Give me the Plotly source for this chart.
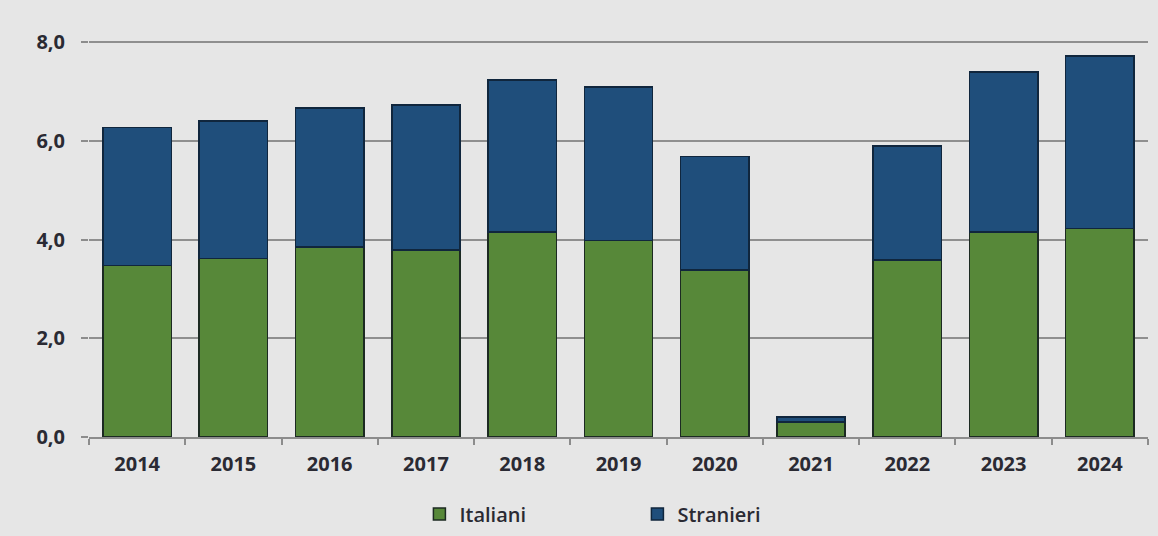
import plotly.graph_objects as go

years = ["2014", "2015", "2016", "2017", "2018", "2019", "2020", "2021", "2022", "2023", "2024"]
italiani = [3.48, 3.62, 3.85, 3.79, 4.16, 3.98, 3.39, 0.30, 3.59, 4.16, 4.23]
stranieri = [2.80, 2.79, 2.82, 2.94, 3.08, 3.12, 2.30, 0.11, 2.31, 3.24, 3.50]
y_ticks = [0, 2, 4, 6, 8]

GREEN = "#578839"
BLUE = "#1F4E7B"
EDGE = "#1c2a22"
BG = "#e6e6e6"
TXT = "#2a2a33"

fig = go.Figure()
fig.add_trace(go.Bar(x=years, y=italiani, name="Italiani",
                     marker=dict(color=GREEN, line=dict(color=EDGE, width=1.5))))
fig.add_trace(go.Bar(x=years, y=stranieri, name="Stranieri",
                     marker=dict(color=BLUE, line=dict(color="#10263d", width=1.5))))

fig.update_layout(
    barmode="stack",
    bargap=0.29,
    width=1158, height=536,
    margin=dict(l=89, r=10, t=41, b=99, autoexpand=False),
    paper_bgcolor=BG, plot_bgcolor=BG,
    separators=",.",
    font=dict(family="Open Sans", size=20, color=TXT, weight=700),
    showlegend=True,
    legend=dict(orientation="h", x=0.312, xanchor="left",
                yref="container", y=0.041, yanchor="middle",
                font=dict(size=20, color=TXT, weight=600), entrywidth=173, itemwidth=30,
                bgcolor="rgba(0,0,0,0)", traceorder="normal"),
)
fig.update_xaxes(
    type="category", showgrid=False, showline=True, linecolor="#8c8c8c", linewidth=2,
    ticks="outside", tickson="boundaries", ticklen=6, tickcolor="#8c8c8c", tickwidth=1.5,
    tickfont=dict(size=20, color=TXT, weight=700), ticklabelstandoff=8,
)
fig.update_yaxes(
    range=[0, 8.03], tickvals=y_ticks, tickformat=".1f",
    showgrid=True, gridcolor="#8f8f8f", gridwidth=1.5,
    showline=False, zeroline=False,
    ticks="outside", ticklen=7, tickcolor="#8c8c8c", tickwidth=1.5,
    tickfont=dict(size=20, color=TXT, weight=700), ticklabelstandoff=12,
)

fig.write_html("out.html", config={"displayModeBar": False},
               post_script="document.body.style.margin='0';document.body.style.padding='0';")
